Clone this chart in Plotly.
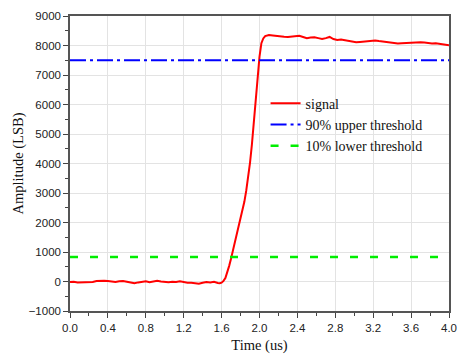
import plotly.graph_objects as go

# Signal samples (time in us, amplitude in LSB)
time_us = [0.00, 0.04, 0.08, 0.12, 0.16, 0.20, 0.24, 0.28, 0.32, 0.36, 0.40, 0.44, 0.48,
           0.52, 0.56, 0.60, 0.64, 0.68, 0.72, 0.76, 0.80, 0.84, 0.88, 0.92, 0.96, 1.00,
           1.04, 1.08, 1.12, 1.16, 1.20, 1.24, 1.28, 1.32, 1.36, 1.40, 1.44, 1.48, 1.52,
           1.56, 1.58, 1.60, 1.62, 1.64, 1.66, 1.68, 1.70, 1.72, 1.74, 1.76, 1.78, 1.80,
           1.82, 1.84, 1.86, 1.88, 1.90, 1.92, 1.94, 1.96, 1.98, 2.00, 2.02, 2.04, 2.06,
           2.08, 2.10, 2.14, 2.18, 2.22, 2.26, 2.30, 2.34, 2.38, 2.42, 2.46, 2.50, 2.54,
           2.58, 2.62, 2.66, 2.70, 2.74, 2.78, 2.82, 2.86, 2.90, 2.94, 2.98, 3.02, 3.06,
           3.10, 3.14, 3.18, 3.22, 3.26, 3.30, 3.34, 3.38, 3.42, 3.46, 3.50, 3.54, 3.58,
           3.62, 3.66, 3.70, 3.74, 3.78, 3.82, 3.86, 3.90, 3.94, 3.98, 4.00]
signal = [-20, -10, -30, -25, -5, -20, -15, 20, 30, 25, 20, 5, -15,
          10, 15, -10, -40, -60, -30, -20, 10, -25, -5, 25, 0, -15,
          -25, -10, -20, 5, -30, -40, -45, -65, -75, -40, -20, -30, -10,
          -50, -60, -40, 20, 120, 300, 530, 780, 1060, 1330, 1580, 1840, 2110,
          2400, 2700, 3080, 3520, 4030, 4650, 5380, 6180, 6950, 7620, 8080, 8240, 8320,
          8340, 8355, 8340, 8320, 8310, 8300, 8290, 8300, 8310, 8330, 8290, 8250, 8270,
          8280, 8250, 8220, 8250, 8290, 8220, 8190, 8200, 8180, 8160, 8150, 8110, 8120,
          8130, 8140, 8160, 8170, 8150, 8130, 8120, 8110, 8090, 8070, 8080, 8090, 8100,
          8090, 8100, 8110, 8100, 8080, 8070, 8080, 8060, 8050, 8020, 8010]

upper_threshold = 7500
lower_threshold = 830
x_range = [0.0, 4.0]
y_range = [-1000, 9000]
x_ticks = [0.0, 0.4, 0.8, 1.2, 1.6, 2.0, 2.4, 2.8, 3.2, 3.6, 4.0]
y_ticks = [-1000, 0, 1000, 2000, 3000, 4000, 5000, 6000, 7000, 8000, 9000]

fig = go.Figure()
fig.add_trace(go.Scatter(x=time_us, y=signal, mode="lines", name="signal",
                         line=dict(color="#ff0000", width=2)))
fig.add_trace(go.Scatter(x=x_range, y=[upper_threshold] * 2, mode="lines",
                         name="90% upper threshold",
                         line=dict(color="#0000ff", width=2, dash="16px,4px,3px,4px")))
fig.add_trace(go.Scatter(x=x_range, y=[lower_threshold] * 2, mode="lines",
                         name="10% lower threshold",
                         line=dict(color="#00ee00", width=2.5, dash="8px,12px")))

axis_common = dict(
    showgrid=True, gridcolor="#e3e3e3", gridwidth=1,
    showline=True, linecolor="#555555", linewidth=1.5, mirror=True,
    ticks="outside", ticklen=5, tickwidth=1, tickcolor="#444444",
    tickfont=dict(family="Liberation Sans, Arial", size=11.5, color="#222222"),
    zeroline=False, automargin=False,
    minor=dict(ticks="outside", ticklen=3, tickwidth=1, tickcolor="#444444", showgrid=False),
)

fig.update_xaxes(range=x_range, tickvals=x_ticks,
                 ticktext=[f"{v:.1f}" for v in x_ticks],
                 minor_dtick=0.2, minor_tick0=0,
                 title=dict(text="Time (us)", standoff=8,
                            font=dict(family="Liberation Serif, Times New Roman", size=14.5, color="#111111")),
                 **axis_common)
fig.update_yaxes(range=y_range, tickvals=y_ticks,
                 ticktext=["\u22121000" if v < 0 else str(v) for v in y_ticks],
                 minor_dtick=500, minor_tick0=0,
                 title=dict(text="Amplitude (LSB)", standoff=2,
                            font=dict(family="Liberation Serif, Times New Roman", size=14.5, color="#111111")),
                 **axis_common)

fig.update_layout(
    width=460, height=354,
    margin=dict(l=70, r=11, t=16, b=43),
    plot_bgcolor="white", paper_bgcolor="white",
    showlegend=True,
    legend=dict(x=0.516, y=0.757, xanchor="left", yanchor="top",
                bgcolor="rgba(0,0,0,0)", borderwidth=0,
                font=dict(family="Liberation Serif, Times New Roman", size=14, color="#111111"),
                tracegroupgap=0, itemwidth=30),
)

fig.write_html("out.html")
